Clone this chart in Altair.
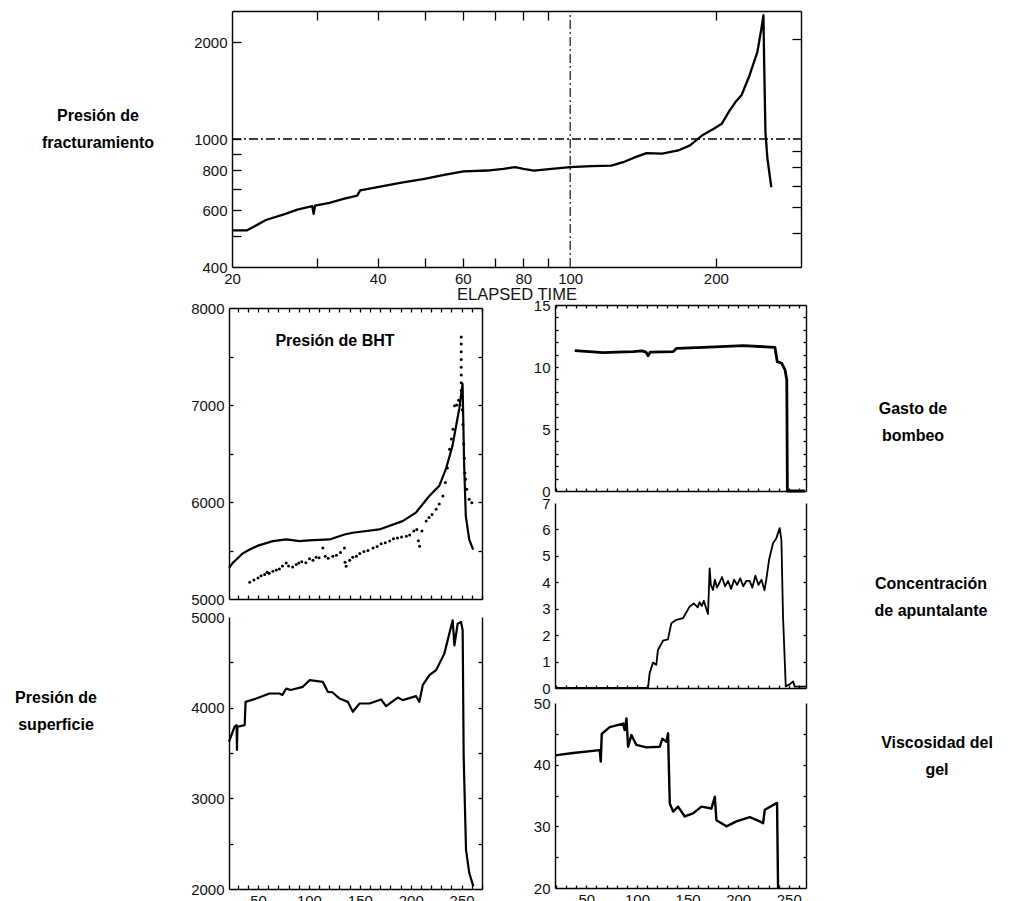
import altair as alt
import pandas as pd

W, H = 985, 880
FONT = "Liberation Sans"
AXFONT = "Liberation Sans Narrow, Liberation Sans"

# ---------------- data ----------------
# Presión de fracturamiento  (log-log)  (elapsed time, pressure)
frac = [(20, 520), (21.5, 520), (23.5, 560), (25.8, 585), (27.3, 603), (29.3, 618), (29.5, 585),
        (29.7, 621), (31.8, 633), (34, 651), (36.3, 667), (36.8, 692), (40, 708), (44.5, 730),
        (50, 752), (54.9, 774), (60.2, 793), (67.4, 798), (72.8, 808), (77, 818), (80, 808),
        (84.2, 798), (91.5, 808), (100, 818), (110.6, 824), (121.6, 826), (128.7, 847),
        (136.4, 878), (143.8, 904), (155, 900), (167.2, 921), (176.9, 955), (187.2, 1025),
        (198.1, 1076), (205.7, 1115), (213.7, 1228), (219.8, 1305), (226, 1368), (234.8, 1576),
        (243.8, 1867), (248.5, 2205), (250.9, 2425), (251.8, 1697), (253.3, 1051), (255.7, 869),
        (260.5, 708)]
frac_right_ticks = [512, 615, 716, 818, 920, 2040]

# Presión de BHT : solid line
bht_line = [(21.5, 5321), (25, 5370), (28.7, 5407), (35, 5470), (41.8, 5510), (50, 5550),
            (64.6, 5597), (77.7, 5614), (90.8, 5597), (100, 5605), (120.2, 5614), (135, 5665),
            (143, 5683), (169.2, 5717), (192, 5803), (205.1, 5890), (218.2, 6062), (228, 6166),
            (234.5, 6338), (241, 6579), (247.6, 6959), (250.9, 7217), (252.5, 6372),
            (254.1, 5855), (257.4, 5614), (261.3, 5510)]
# Presión de BHT : dotted series
bht_dots = [(41.8, 5172), (46, 5195), (50, 5217), (53, 5240), (56.5, 5252), (59, 5275), (61, 5265),
            (64.6, 5286), (68, 5300), (71, 5310), (74, 5340), (77.7, 5372), (80, 5340), (84, 5330),
            (87.5, 5355), (90, 5370), (93, 5385), (97, 5375), (100.6, 5414), (104, 5400),
            (107, 5430), (110, 5425), (113.7, 5527), (116, 5440), (119, 5420), (123.5, 5441),
            (127, 5450), (131, 5480), (134.9, 5527), (135.5, 5380), (136.5, 5338), (140, 5400),
            (143, 5430), (146.7, 5441), (150, 5470), (154, 5490), (158, 5500), (163, 5527),
            (167, 5540), (171, 5570), (175, 5580), (179.3, 5597), (183, 5620), (187, 5630),
            (191, 5640), (195.7, 5648), (199, 5660), (203, 5700), (206, 5717), (207.5, 5600),
            (208.7, 5545), (211, 5700), (215.2, 5803), (218, 5840), (221, 5870), (225, 5924),
            (228, 5980), (231.6, 6062), (234, 6200), (236, 6350), (238.1, 6545), (240, 6650),
            (241.5, 6750), (243, 6993), (245, 7000), (247, 7050), (248.5, 7000), (249.6, 7150),
            (249.6, 7230), (249.6, 7310), (249.6, 7390), (249.6, 7470), (249.6, 7550),
            (249.6, 7630), (249.6, 7700), (250.5, 6950), (251.2, 6800), (252, 6600),
            (252.6, 6450), (253.2, 6300), (253.9, 6234), (255, 6131), (257.4, 6028), (260, 5993)]

# Presión de superficie
surf = [(21.5, 3624), (27, 3790), (29, 3808), (29.3, 3533), (29.8, 3790), (36.9, 3808),
        (37.8, 4064), (48.3, 4101), (61.3, 4156), (71.1, 4156), (74, 4140), (77.7, 4211),
        (82, 4195), (94, 4230), (100.6, 4303), (113.7, 4284), (118.6, 4175), (123, 4170),
        (130, 4101), (138.2, 4064), (143.1, 3955), (149.7, 4046), (159.5, 4046), (170.9, 4090),
        (175.8, 4017), (187.3, 4112), (192.2, 4083), (205.2, 4127), (208.5, 4064),
        (211.8, 4248), (218.3, 4358), (224.9, 4413), (233, 4596), (241.2, 4963), (242.9, 4688),
        (246.1, 4926), (249.4, 4945), (251, 4853), (252, 3459), (254.3, 2433), (257.5, 2176),
        (261.5, 2029)]

# Gasto de bombeo
gasto = [(38.5, 11.32), (66.6, 11.16), (80, 11.2), (96.3, 11.24), (105, 11.3), (109, 11.2),
         (111, 10.9), (113, 11.2), (135.8, 11.24), (139, 11.5), (165.5, 11.59), (205, 11.72),
         (236.3, 11.59), (238.6, 10.43), (243, 10.3), (246.3, 9.76), (248, 8.95), (248.6, 0),
         (266, 0)]

# Concentración de apuntalante
conc = [(19, 0), (110.9, 0), (112.5, 0.56), (115.8, 0.96), (119.1, 0.88), (120.7, 1.44),
        (125.7, 1.79), (130.6, 1.84), (133.9, 2.45), (138.9, 2.58), (145.4, 2.64), (152, 3.08),
        (156, 3.2), (160, 3.05), (161.9, 3.25), (164, 3.1), (166, 3.3), (168.5, 3.0),
        (170.2, 2.8), (171.8, 4.53), (173, 3.9), (175.1, 3.71), (177, 4.1), (179, 3.8),
        (181.7, 4.0), (184, 4.2), (187, 3.85), (190, 4.05), (193, 3.75), (196, 4.1),
        (199, 3.9), (202, 4.15), (205, 3.85), (208, 4.05), (211.4, 4.05), (214, 3.8),
        (217, 4.25), (220, 3.9), (223, 4.1), (226, 3.7), (227.8, 4.11), (230.5, 4.85),
        (234.4, 5.48), (237.7, 5.67), (241, 6.05), (242.7, 5.6), (244.3, 2.7), (247, 0.06),
        (250.9, 0.14), (254.2, 0.25), (255.9, 0.05), (267, 0.05)]

# Viscosidad del gel
visc = [(19, 41.5), (36.8, 41.9), (63.2, 42.35), (64.2, 40.5), (65.2, 45.0), (73.1, 46.1),
        (86.3, 46.66), (87.9, 45.6), (89.6, 47.5), (91.2, 42.9), (94.5, 44.8), (99.4, 43.2),
        (109.3, 42.8), (122.5, 42.9), (125.1, 44.2), (129.1, 43.7), (130.7, 45.1),
        (132.4, 33.7), (135.7, 32.4), (140.6, 33.2), (147.2, 31.6), (155.4, 32.1),
        (163.7, 33.2), (173.6, 32.9), (176.9, 34.8), (178.5, 31.0), (188.4, 30.0),
        (198.3, 30.8), (211.4, 31.5), (221.3, 30.8), (224.6, 30.5), (226.3, 32.7),
        (238.4, 33.8), (239.4, 20)]

# tick labels
frac_x_labels = [20, 40, 60, 80, 100, 200]
frac_x_ticks = [30, 40, 50, 60, 70, 80, 90, 200]
frac_y_labels = [400, 500, 600, 700, 800, 900, 1000, 2000]
frac_y_ticks = [500, 600, 700, 800, 900, 1000, 2000]
time_labels = [50, 100, 150, 200, 250]
left_time_ticks = list(range(30, 271, 10))
right_time_ticks = list(range(20, 261, 10))


def to_df(pairs):
    return pd.DataFrame({"i": list(range(len(pairs))),
                         "t": [p[0] for p in pairs],
                         "v": [p[1] for p in pairs]})


def sc(dom, r0, r1, log=False):
    return alt.Scale(type="log" if log else "linear", domain=dom, range=[r0, r1],
                     nice=False, zero=False)


def panel(pairs, xdom, ydom, box, xlog=False, ylog=False, xlabels=None, ylabels=None,
          ylabel_expr=None, bottom_ticks=None, left_ticks=None, right_ticks=None,
          top_ticks=None, top_frame=True, sw=2.0, ts=4, xtitle=None):
    L, R, T, B = box
    d = to_df(pairs)
    base = alt.Chart(d)

    def X(ax):
        return alt.X("t:Q", scale=sc(xdom, L, R, xlog), axis=ax)

    def Y(ax):
        return alt.Y("v:Q", scale=sc(ydom, B, T, ylog), axis=ax)

    # main layer: labelled bottom + left axes (the frame's bottom and left sides)
    if xlabels is not None:
        xa = alt.Axis(orient="bottom", offset=B - H, values=xlabels, ticks=False, domain=True,
                      labels=True, format="d", labelPadding=4, grid=False, labelFlush=False,
                      labelOverlap=False, title=xtitle, titlePadding=0)
    else:
        xa = alt.Axis(orient="bottom", offset=B - H, ticks=False, domain=True, labels=False,
                      grid=False, title=None)
    ykw = dict(orient="left", offset=-L, values=ylabels, ticks=False, domain=True, labels=True,
               format="d", labelPadding=5, grid=False, labelFlush=False, labelOverlap=False,
               title=None)
    if ylabel_expr:
        ykw["labelExpr"] = ylabel_expr
    ya = alt.Axis(**ykw)
    layers = [base.mark_line(color="black", strokeWidth=sw, strokeJoin="round").encode(
        x=X(xa), y=Y(ya), order="i:Q")]

    # inward ticks on bottom and left sides
    xb = (alt.Axis(orient="top", offset=-B, values=bottom_ticks, ticks=True, tickSize=ts,
                   domain=False, labels=False, grid=False, title=None)
          if bottom_ticks else None)
    yb = (alt.Axis(orient="right", offset=L - W, values=left_ticks, ticks=True, tickSize=ts,
                   domain=False, labels=False, grid=False, title=None)
          if left_ticks else None)
    if xb is not None or yb is not None:
        layers.append(base.mark_line(opacity=0).encode(x=X(xb), y=Y(yb), order="i:Q"))

    # top and right sides of the frame, ticks pointing inward
    if top_frame:
        if top_ticks:
            xc = alt.Axis(orient="bottom", offset=T - H, values=top_ticks, ticks=True,
                          tickSize=ts, domain=True, labels=False, grid=False, title=None)
        else:
            xc = alt.Axis(orient="bottom", offset=T - H, ticks=False, domain=True,
                          labels=False, grid=False, title=None)
    else:
        xc = None
    if right_ticks:
        yc = alt.Axis(orient="left", offset=-R, values=right_ticks, ticks=True, tickSize=ts,
                      domain=True, labels=False, grid=False, title=None)
    else:
        yc = alt.Axis(orient="left", offset=-R, ticks=False, domain=True, labels=False,
                      grid=False, title=None)
    layers.append(base.mark_line(opacity=0).encode(x=X(xc), y=Y(yc), order="i:Q"))
    return layers, X, Y


# ---------------- panels (plot-area pixel boxes: left, right, top, bottom) ----------------
TOP = (224, 793, 3, 259)
BHT = (221, 474, 300, 591)
SUP = (221, 474, 609, 881)
GAS = (547, 798, 297, 483)
CON = (547, 798, 495, 680)
VIS = (547, 798, 695, 880)
LDOM = [21.5, 270]
RDOM = [19, 267]

layers = []

top_layers, TX, TY = panel(frac, [20, 300], [400, 2500], TOP, xlog=True, ylog=True,
                           xlabels=frac_x_labels, ylabels=frac_y_labels,
                           ylabel_expr="(datum.value == 500 || datum.value == 700 || datum.value == 900) ? '' : datum.label",
                           bottom_ticks=frac_x_ticks, left_ticks=frac_y_ticks,
                           right_ticks=frac_right_ticks, top_ticks=frac_x_ticks,
                           sw=2.3, ts=9, xtitle="ELAPSED TIME")
layers += top_layers

# dash-dot reference lines at 1000 and at t = 100
hline = pd.DataFrame({"t": [20], "t2": [300], "v": [1000]})
vline = pd.DataFrame({"t": [100], "v": [400], "v2": [2500]})
layers.append(alt.Chart(hline).mark_rule(color="black", strokeWidth=1.3,
                                         strokeDash=[9, 3, 2, 3]).encode(
    x=TX(None), x2="t2:Q", y=TY(None)))
layers.append(alt.Chart(vline).mark_rule(color="black", strokeWidth=1.1,
                                         strokeDash=[9, 3, 2, 3]).encode(
    x=TX(None), y=TY(None), y2="v2:Q"))

bht_layers, BX, BY = panel(bht_line, LDOM, [5000, 8000], BHT, ylabels=[5000, 6000, 7000, 8000],
                           bottom_ticks=left_time_ticks, left_ticks=[5500, 6000, 6500, 7000, 7500],
                           right_ticks=[5500, 6000, 6500, 7000, 7500], top_ticks=left_time_ticks,
                           sw=2.2, ts=4)
layers += bht_layers
layers.append(alt.Chart(to_df(bht_dots)).mark_circle(size=9, color="black", opacity=1).encode(
    x=BX(None), y=BY(None)))

sup_layers, _, _ = panel(surf, LDOM, [2000, 5000], SUP, xlabels=time_labels,
                         ylabels=[2000, 3000, 4000, 5000], bottom_ticks=left_time_ticks,
                         left_ticks=[2500, 3000, 3500, 4000, 4500],
                         right_ticks=[2500, 3000, 3500, 4000, 4500], top_frame=False,
                         sw=2.2, ts=4)
layers += sup_layers

gas_layers, _, _ = panel(gasto, RDOM, [0, 15], GAS, ylabels=[0, 5, 10, 15],
                         bottom_ticks=right_time_ticks, left_ticks=list(range(1, 15)),
                         right_ticks=list(range(1, 15)), top_ticks=right_time_ticks,
                         sw=2.8, ts=3)
layers += gas_layers

con_layers, _, _ = panel(conc, RDOM, [0, 7], CON, ylabels=[0, 1, 2, 3, 4, 5, 6, 7],
                         bottom_ticks=right_time_ticks, left_ticks=[1, 2, 3, 4, 5, 6],
                         right_ticks=[1, 2, 3, 4, 5, 6], top_frame=False, sw=1.8, ts=3)
layers += con_layers

vis_layers, _, _ = panel(visc, RDOM, [20, 50], VIS, xlabels=time_labels,
                         ylabels=[20, 30, 40, 50], bottom_ticks=right_time_ticks,
                         left_ticks=[25, 30, 35, 40, 45], right_ticks=[25, 30, 35, 40, 45],
                         top_frame=False, sw=2.4, ts=3)
layers += vis_layers

# ---------------- side labels ----------------
one = pd.DataFrame({"a": [0]})
notes = [
    (["Presión de", "fracturamiento"], 90, 108),
    (["Presión de BHT"], 327, 333),
    (["Gasto de", "bombeo"], 905, 401),
    (["Concentración", "de apuntalante"], 923, 576),
    (["Presión de", "superficie"], 48, 690),
    (["Viscosidad del", "gel"], 929, 735),
]
for txt, px, py in notes:
    layers.append(alt.Chart(one).mark_text(font=FONT, fontSize=16, fontWeight="bold",
                                           color="black", align="center", baseline="middle",
                                           lineHeight=27).encode(
        x=alt.value(px), y=alt.value(py), text=alt.value(txt)))

chart = alt.layer(*layers).resolve_scale(x="independent", y="independent").properties(
    width=W, height=H, padding=0, background="white"
).configure_view(strokeWidth=0).configure_axis(
    labelFont=AXFONT, labelFontSize=15, labelColor="#111", domainColor="black",
    tickColor="black", domainWidth=1.4, tickWidth=1.3, titleFont=AXFONT, titleFontSize=16.5,
    titleFontWeight="normal", titleColor="#111"
)

chart.save("out.html", embed_options={"renderer": "svg", "actions": False})
